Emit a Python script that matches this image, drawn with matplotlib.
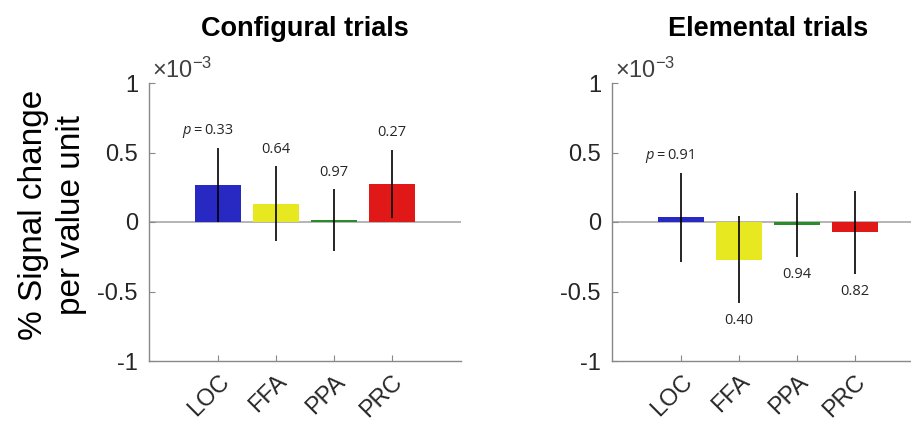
import matplotlib
matplotlib.use("Agg")
import matplotlib.pyplot as plt
import numpy as np

# ---------------------------------------------------------------------------
# Data (values in units of 1e-3 % signal change per value unit)
# ---------------------------------------------------------------------------

REGIONS = ["LOC", "FFA", "PPA", "PRC"]
BAR_COLORS = ["#2828c2", "#e8e820", "#2a8c2a", "#e01818"]

CONFIG_MEAN = [0.265, 0.13, 0.012, 0.275]
CONFIG_ERR = [0.265, 0.27, 0.222, 0.245]
CONFIG_P = ["0.33", "0.64", "0.97", "0.27"]

ELEM_MEAN = [0.035, -0.272, -0.02, -0.074]
ELEM_ERR = [0.32, 0.314, 0.23, 0.30]
ELEM_P = ["0.91", "0.40", "0.94", "0.82"]

YTICKS = [-1, -0.5, 0, 0.5, 1]

plt.rcParams.update({
    "font.family": "Liberation Sans",
    "mathtext.fontset": "custom",
    "mathtext.rm": "Liberation Sans",
    "mathtext.it": "Liberation Sans:italic",
})

AXIS_GREY = "#888888"
TEXT_DARK = "#262626"
P_FONT = "Open Sans"
P_SIZE = 10.5


def draw_panel(ax, title, means, errs, pvals):
    x = np.arange(1, len(REGIONS) + 1)
    ax.axhline(0, color="#a8a8a8", linewidth=1.2, zorder=1)
    ax.bar(x, means, width=0.8, color=BAR_COLORS, edgecolor="none", zorder=2)
    ax.errorbar(x, means, yerr=errs, fmt="none", ecolor="black",
                elinewidth=1.2, capsize=0, zorder=3)

    # p-value labels beyond the error bar extreme
    for i, (m, e, p) in enumerate(zip(means, errs, pvals)):
        if m >= 0:
            y = m + e + 0.125
        else:
            y = m - e - 0.125
        ax.text(x[i], y, p, ha="center", va="center", fontsize=P_SIZE,
                family=P_FONT, color=TEXT_DARK, zorder=4)
        if i == 0:
            ax.text(x[i] - 0.36, y, "=", ha="center", va="center",
                    fontsize=P_SIZE, family=P_FONT, color=TEXT_DARK, zorder=4)
            ax.text(x[i] - 0.48, y, "p", ha="right", va="center",
                    fontsize=P_SIZE, family=P_FONT, style="italic",
                    color=TEXT_DARK, zorder=4)

    ax.set_xlim(-0.2, 5.2)
    ax.set_ylim(-1, 1)
    ax.set_xticks(x)
    ax.set_xticklabels(REGIONS, rotation=45, ha="right", va="top",
                       rotation_mode="anchor", fontsize=17, color=TEXT_DARK)
    ax.set_yticks(YTICKS)
    ax.set_yticklabels([f"{t:g}" for t in YTICKS], fontsize=17,
                       color=TEXT_DARK)
    ax.tick_params(axis="both", direction="in", length=4, width=0.8,
                   color=AXIS_GREY)
    ax.tick_params(axis="y", pad=8)
    ax.tick_params(axis="x", pad=7)
    for side in ("top", "right"):
        ax.spines[side].set_visible(False)
    for side in ("left", "bottom"):
        ax.spines[side].set_color(AXIS_GREY)
        ax.spines[side].set_linewidth(1.0)
    ax.set_facecolor("none")

    ax.text(0.01, 1.02, r"$\times\mathregular{10^{-3}}$", transform=ax.transAxes,
            ha="left", va="baseline", fontsize=17, color="#404040")
    ax.text(0.5, 1.17, title, transform=ax.transAxes, ha="center",
            va="baseline", fontsize=19.5, fontweight="bold", color="black")


fig = plt.figure(figsize=(9.12, 4.22), dpi=100)
ax1 = fig.add_axes([149 / 912, 61 / 422, 312 / 912, 278 / 422])
ax2 = fig.add_axes([612 / 912, 61 / 422, 312 / 912, 278 / 422])

draw_panel(ax1, "Configural trials", CONFIG_MEAN, CONFIG_ERR, CONFIG_P)
draw_panel(ax2, "Elemental trials", ELEM_MEAN, ELEM_ERR, ELEM_P)

fig.text(0.058, 0.49, "% Signal change\nper value unit", rotation=90,
         ha="center", va="center", multialignment="center", fontsize=24,
         linespacing=1.3, color="black")

fig.savefig("out.png", dpi=100)
